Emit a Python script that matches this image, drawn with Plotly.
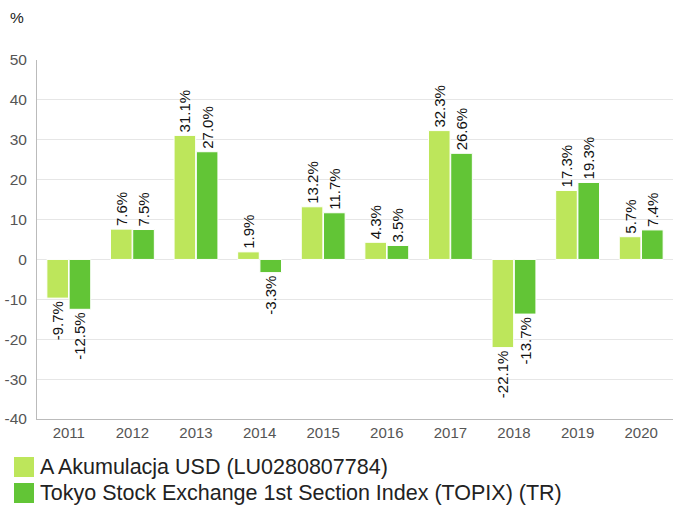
import plotly.graph_objects as go

years = ["2011", "2012", "2013", "2014", "2015", "2016", "2017", "2018", "2019", "2020"]
fund = [-9.7, 7.6, 31.1, 1.9, 13.2, 4.3, 32.3, -22.1, 17.3, 5.7]
index = [-12.5, 7.5, 27.0, -3.3, 11.7, 3.5, 26.6, -13.7, 19.3, 7.4]
names = ["A Akumulacja USD (LU0280807784)", "Tokyo Stock Exchange 1st Section Index (TOPIX) (TR)"]
y_ticks = [-40, -30, -20, -10, 0, 10, 20, 30, 40, 50]
y_tick_labels = ["-40", "-30", "-20", "-10", "0", "10", "20", "30", "40", "50"]
colors = ["#bde65b", "#62c536"]

W, H = 674, 506
L, T = 37, 60
pw, ph = 636, 359
R = W - L - pw
B = H - T - ph

def px(x):
    return (x - L) / pw

def py(y):
    return (T + ph - y) / ph

fig = go.Figure()
for vals, nm, c in zip([fund, index], names, colors):
    fig.add_trace(go.Bar(
        x=years, y=vals, name=nm, marker=dict(color=c, line=dict(color="white", width=1)),
        text=[f"{v:.1f}%" for v in vals], textposition="outside", textangle=-90,
        constraintext="none",
        textfont=dict(size=15, color="#111", family="Liberation Sans, Arial"),
        cliponaxis=False, showlegend=False, hoverinfo="skip",
    ))

shapes = []
annotations = []
for i, (nm, c) in enumerate(zip(names, colors)):
    top = 457 + i * 26
    shapes.append(dict(type="rect", xref="paper", yref="paper",
                       x0=px(14), x1=px(34), y0=py(top), y1=py(top + 20),
                       fillcolor=c, line=dict(width=0)))
    annotations.append(dict(xref="paper", yref="paper", x=px(38), y=py(top + 10),
                            text=nm, showarrow=False, xanchor="left", yanchor="middle",
                            font=dict(size=21.5, color="#222", family="Liberation Sans, Arial")))
annotations.append(dict(xref="paper", yref="paper", x=px(8), y=py(17), text="%",
                        showarrow=False, xanchor="left", yanchor="middle",
                        font=dict(size=15.5, color="#222", family="Liberation Sans, Arial")))

fig.update_layout(
    width=W, height=H, margin=dict(l=L, r=R, t=T, b=B, pad=0, autoexpand=False),
    plot_bgcolor="white", paper_bgcolor="white",
    barmode="group", bargap=0.3, bargroupgap=0.03,
    font=dict(family="Liberation Sans, Arial", size=15, color="#555"),
    shapes=shapes, annotations=annotations,
    xaxis=dict(showgrid=False, showline=True, linecolor="#bbb", linewidth=1, ticks="",
               tickfont=dict(size=15, color="#555"), automargin=False),
    yaxis=dict(range=[-40, 50], tickmode="array", tickvals=y_ticks, ticktext=y_tick_labels,
               showgrid=True, gridcolor="#e6e6e6", zeroline=True,
               zerolinecolor="#e6e6e6", zerolinewidth=1, showline=True, linecolor="#bbb",
               linewidth=1, ticks="", tickfont=dict(size=15.5, color="#555"), ticklabelstandoff=6,
               automargin=False),
)
fig.write_html("out.html", config={"displayModeBar": False},
               post_script="document.body.style.margin='0';")
